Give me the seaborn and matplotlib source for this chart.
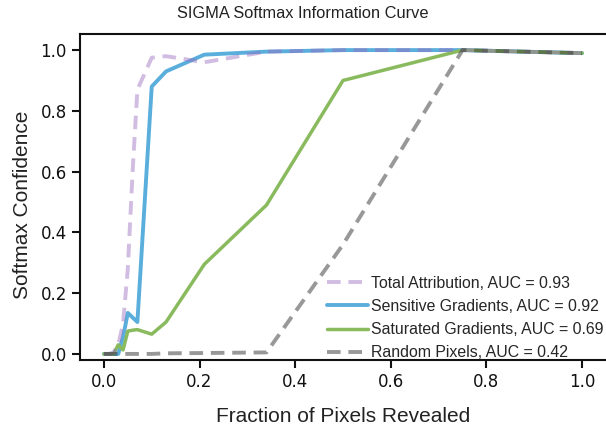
import matplotlib
matplotlib.use("Agg")
import matplotlib.pyplot as plt
import seaborn as sns
import pandas as pd

x_frac = [0.0, 0.01, 0.02, 0.03, 0.04, 0.05, 0.06, 0.07, 0.10, 0.13, 0.21, 0.34, 0.50, 0.75, 1.0]
total_attr = [0.0, 0.0, 0.005, 0.03, 0.10, 0.28, 0.60, 0.87, 0.975, 0.98, 0.96, 0.995, 1.0, 1.0, 0.99]
sensitive = [0.0, 0.0, 0.0, 0.0, 0.055, 0.135, 0.12, 0.105, 0.88, 0.93, 0.985, 0.995, 1.0, 1.0, 0.99]
saturated = [0.0, 0.0, 0.0, 0.03, 0.013, 0.075, 0.078, 0.08, 0.065, 0.105, 0.295, 0.49, 0.90, 1.0, 0.99]
random_px = [0.0, 0.0, 0.0, 0.0, 0.0, 0.0, 0.0, 0.0, 0.0, 0.002, 0.003, 0.005, 0.36, 1.0, 0.99]

labels = ["Total Attribution, AUC = 0.93",
          "Sensitive Gradients, AUC = 0.92",
          "Saturated Gradients, AUC = 0.69",
          "Random Pixels, AUC = 0.42"]

sns.set_style("ticks")
plt.rcParams['font.family'] = ['Liberation Sans', 'DejaVu Sans']

fig = plt.figure(figsize=(6.06, 4.32), dpi=100)
ax = fig.add_axes([80 / 606, 1 - 360 / 432, 526 / 606, 326 / 432])

df = pd.DataFrame({"x": x_frac, "ta": total_attr, "sg": sensitive,
                   "sat": saturated, "rp": random_px})

sns.lineplot(data=df, x="x", y="sg", ax=ax, color="#5aaedc", lw=2.8,
             label=labels[1], zorder=2)
sns.lineplot(data=df, x="x", y="sat", ax=ax, color="#8aba5e", lw=2.5,
             label=labels[2], zorder=2.5)
sns.lineplot(data=df, x="x", y="ta", ax=ax, color="#9a6cc0", alpha=0.45, lw=2.8,
             linestyle=(0, (3.5, 2)), label=labels[0], zorder=3)
sns.lineplot(data=df, x="x", y="rp", ax=ax, color="#333333", alpha=0.5, lw=2.8,
             linestyle=(0, (3.5, 2)), label=labels[3], zorder=4)

ax.set_xlim(-0.05, 1.05)
ax.set_ylim(-0.02, 1.053)
ax.set_xticks([0.0, 0.2, 0.4, 0.6, 0.8, 1.0])
ax.set_yticks([0.0, 0.2, 0.4, 0.6, 0.8, 1.0])
ax.tick_params(axis="both", length=6, width=1.5, colors="#111111")
for lab in ax.get_xticklabels() + ax.get_yticklabels():
    lab.set_fontfamily("DejaVu Sans")
    lab.set_fontsize(12)
for s in ["left", "bottom", "top"]:
    ax.spines[s].set_linewidth(1.5)
    ax.spines[s].set_color("#111111")
ax.spines["right"].set_visible(False)

ax.set_xlabel("Fraction of Pixels Revealed", fontsize=15, color="#222222")
ax.set_ylabel("Softmax Confidence", fontsize=15, color="#222222")
ax.xaxis.set_label_coords(0.5, -0.145)
ax.yaxis.set_label_coords(-0.092, 0.475)
fig.text(0.5, 1 - 14 / 432, "SIGMA Softmax Information Curve", ha="center",
         va="center", fontsize=11.8, color="#222222")

h, l = ax.get_legend_handles_labels()
order = [l.index(s) for s in labels]
ax.legend([h[i] for i in order], [l[i] for i in order], loc="lower right",
          bbox_to_anchor=(1.023, -0.045), frameon=False, fontsize=11.4,
          handlelength=2.6, handletextpad=0.2, labelspacing=0.52)

fig.savefig("out.png", dpi=100)
